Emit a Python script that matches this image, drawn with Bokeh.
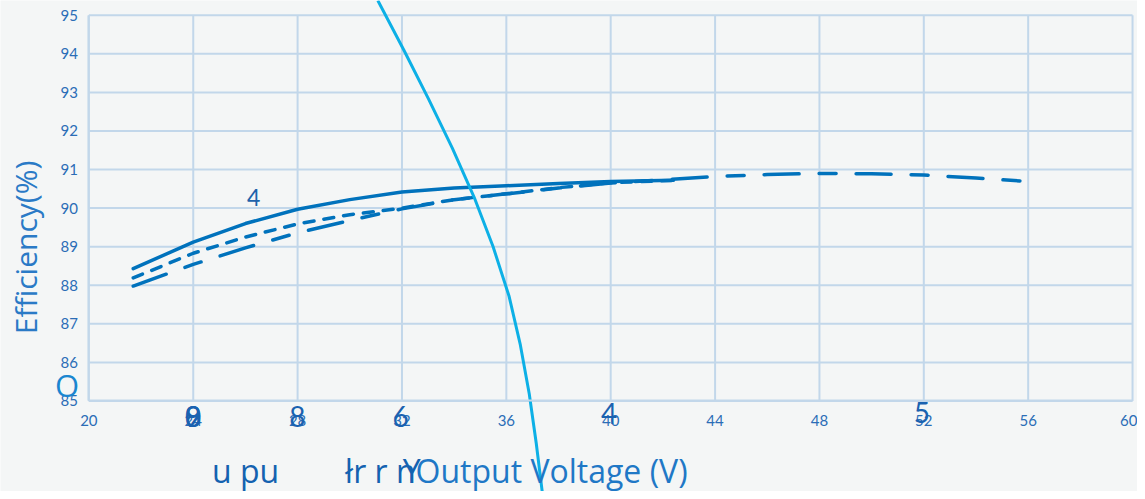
from bokeh.plotting import figure
from bokeh.models import Label, Range1d, FixedTicker
from bokeh.embed import file_html
from bokeh.resources import INLINE

# ---- data ----
volt_solid = [21.7, 24, 26, 28, 30, 32, 34, 36, 38, 40, 42.4]
eff_solid = [88.43, 89.12, 89.6, 89.97, 90.22, 90.42, 90.52, 90.58, 90.64, 90.69, 90.72]

volt_mid = [21.7, 24, 26, 28, 30, 32, 34, 36, 38, 40, 42.4]
eff_mid = [88.19, 88.83, 89.25, 89.59, 89.83, 90.0, 90.22, 90.37, 90.53, 90.66, 90.72]

volt_long = [21.7, 24, 26, 28, 30, 32, 34, 36, 38, 40, 42, 44, 46, 48, 50, 52, 54, 56]
eff_long = [87.98, 88.54, 88.97, 89.36, 89.68, 89.98, 90.22, 90.37, 90.52, 90.65, 90.73,
            90.82, 90.87, 90.9, 90.89, 90.86, 90.78, 90.69]

cur_x = [31.075, 32.065, 33.016, 33.93, 34.767, 35.49, 36.099, 36.537, 36.879, 37.146, 37.374]
cur_y = [95.383, 94.107, 92.832, 91.556, 90.281, 89.005, 87.73, 86.454, 85.179, 83.903, 82.653]

x_ticks = [20, 24, 28, 32, 36, 40, 44, 48, 52, 56, 60]
y_ticks = [85, 86, 87, 88, 89, 90, 91, 92, 93, 94, 95]

BG = "#f4f6f6"
GRID = "#c2d7ea"
BLUE = "#0072bc"
CYAN = "#0db0e6"
TXT = "#2b6db6"
FONT = "Lato"
TFONT = "Open Sans"

p = figure(width=1137, height=491, output_backend="svg", toolbar_location=None,
           x_range=Range1d(16.613, 60.19), y_range=Range1d(82.653, 95.383),
           min_border_left=0, min_border_top=0, min_border_right=0, min_border_bottom=0)
p.background_fill_color = BG
p.border_fill_color = BG
p.outline_line_color = None
p.xgrid.visible = False
p.ygrid.visible = False

# grid drawn from the tick arrays
p.segment(x0=x_ticks, y0=[y_ticks[0]] * len(x_ticks), x1=x_ticks, y1=[y_ticks[-1]] * len(x_ticks),
          line_color=GRID, line_width=2)
p.segment(x0=[x_ticks[0]] * len(y_ticks), y0=y_ticks, x1=[x_ticks[-1]] * len(y_ticks), y1=y_ticks,
          line_color=GRID, line_width=2)

for ax, ticks, loc, bnd in ((p.xaxis[0], x_ticks, y_ticks[0], (x_ticks[0], x_ticks[-1])),
                            (p.yaxis[0], y_ticks, x_ticks[0], (y_ticks[0], y_ticks[-1]))):
    ax.ticker = FixedTicker(ticks=ticks)
    ax.fixed_location = loc
    ax.bounds = bnd
    ax.axis_line_color = GRID
    ax.axis_line_width = 2
    ax.major_tick_line_color = GRID
    ax.major_tick_in = 0
    ax.major_tick_out = 0
    ax.minor_tick_line_color = None
    ax.major_label_text_color = TXT
    ax.major_label_text_font = FONT
    ax.major_label_text_font_size = "15px"
p.xaxis.major_label_standoff = 14
p.yaxis.major_label_standoff = 11

p.line(volt_long, eff_long, line_color=BLUE, line_width=3.5, line_dash="35 20 17 20", line_cap="round")
p.line(volt_mid, eff_mid, line_color=BLUE, line_width=3.5, line_dash="10 10", line_cap="round")
p.line(volt_solid, eff_solid, line_color=BLUE, line_width=3.5, line_cap="round")
p.line(cur_x, cur_y, line_color=CYAN, line_width=3)


def lab(x, y, t, size, color, align="center", font=FONT, angle=0):
    p.add_layout(Label(x=x, y=y, text=t, text_font=font, text_font_size=size,
                       text_color=color, text_align=align, text_baseline="middle", angle=angle))


lab(17.564, 88.98, "Efficiency(%)", "30px", "#2a7ac6", font=TFONT, angle=1.5708)
lab(19.163, 85.408, "O", "31px", "#1a86d0", font=TFONT)
lab(26.318, 90.28, "4", "23px", "#2062aa")
for t in ("9", "8", "0"):
    lab(23.996, 84.592, t, "28px", "#1a62b0")
lab(27.99, 84.592, "8", "28px", "#1a62b0")
lab(31.95, 84.592, "6", "28px", "#1a62b0")
lab(39.94, 84.67, "4", "28px", "#1a62b0")
lab(51.93, 84.69, "5", "28px", "#1a62b0")

lab(24.72, 83.189, "u pu", "32px", "#1462b0", align="left", font=TFONT)
lab(29.82, 83.189, "łr r n", "32px", "#1462b0", align="left", font=TFONT)
lab(32.03, 83.189, "Y", "32px", "#1462b0", align="left", font=TFONT)
lab(32.52, 83.189, "Output Voltage (V)", "32px", "#1f78c6", align="left", font=TFONT)

open("out.html", "w").write(file_html(p, INLINE))
